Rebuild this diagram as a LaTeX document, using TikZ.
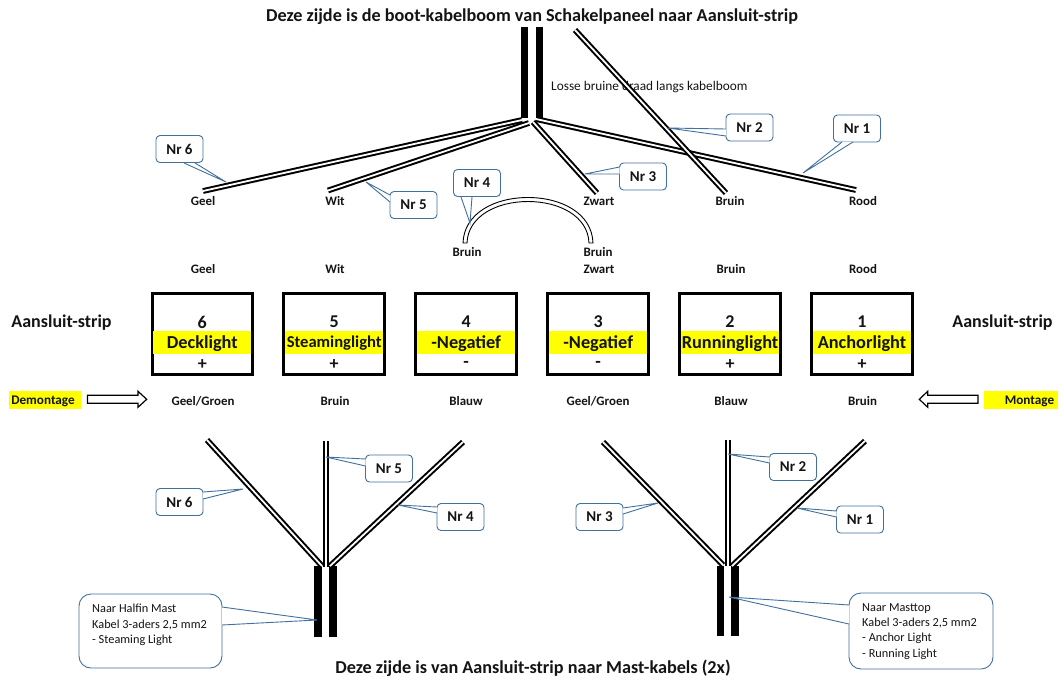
\documentclass[tikz,border=0pt]{standalone}
\usepackage{fontspec}
\setmainfont{Carlito}
\usetikzlibrary{calc}
\definecolor{callblue}{RGB}{65,113,156}
\definecolor{stripyellow}{RGB}{255,255,0}
\definecolor{txt}{RGB}{20,20,20}
\newcommand{\ptrTo}[4]{%
  \fill[white] ($(#1)+(#2)$) -- (#4) -- ($(#1)+(#3)$) -- cycle;
  \draw[callline] ($(#1)+(#2)$) -- (#4) -- ($(#1)+(#3)$);}
\tikzset{
  x=1pt,y=-1pt,
  title/.style={font=\bfseries\fontsize{18.2}{21}\selectfont,text=txt,inner sep=0},
  stripttl/.style={font=\bfseries\fontsize{18}{21}\selectfont,text=txt,inner sep=0},
  lbl/.style={font=\bfseries\fontsize{12.9}{15}\selectfont,text=txt,inner sep=0},
  taglbl/.style={font=\bfseries\fontsize{13.2}{15}\selectfont,text=txt,inner sep=0},
  strip/.style={font=\bfseries\fontsize{18.3}{21}\selectfont,text=txt,inner sep=0},
  num/.style={font=\bfseries\fontsize{18}{21}\selectfont,text=txt,inner sep=0},
  plain/.style={font=\fontsize{13.3}{15}\selectfont,text=txt,inner sep=0},
  noteplain/.style={font=\fontsize{12.3}{15.3}\selectfont,text=txt,inner sep=0},
  wire/.style={draw=black,line width=2pt,double=white,double distance=1.8pt},
  cable/.style={fill=black,inner sep=0,minimum width=7.5pt,minimum height=#1},
  termbox/.style={draw=black,line width=3pt,fill=white,minimum width=100.5pt,minimum height=81pt,inner sep=0},
  band/.style={fill=stripyellow,inner sep=0,minimum width=98pt,minimum height=22.7pt},
  nrbox/.style={draw=callblue,line width=0.9pt,rounded corners=4pt,fill=white,minimum width=47pt,minimum height=27pt,inner sep=0,font=\bfseries\fontsize{15}{17}\selectfont,text=txt},
  bigbox/.style={draw=callblue,line width=0.9pt,rounded corners=12pt,fill=white,inner sep=0},
  callline/.style={draw=callblue,line width=0.9pt},
  hollow/.style={draw=black,line width=0.9pt,fill=white},
  hollowarrow/.style={draw=black,line width=1.2pt,fill=white},
  yellowtag/.style={fill=stripyellow,inner sep=0},
}
\begin{document}
\begin{tikzpicture}
\useasboundingbox (0,0) rectangle (1061,681);
\fill[white] (0,0) rectangle (1061,681);

% titles
\node[title] (t1) at (532,16.5) {Deze zijde is de boot-kabelboom van Schakelpaneel naar Aansluit-strip};
\node[title] (t2) at (533,668.5) {Deze zijde is van Aansluit-strip naar Mast-kabels (2x)};
\node[plain,anchor=west] (losse) at (551,87) {Losse bruine draad langs kabelboom};

% top cables
\node[cable=91pt] (ct1) at (524.5,72.5) {};
\node[cable=91pt] (ct2) at (539.5,72.5) {};

% top wire ends
\coordinate (wGeelA) at (522,120);  \coordinate (wGeelB) at (203,191);
\coordinate (wWitA) at (529,123);   \coordinate (wWitB) at (328,190.5);
\coordinate (wZwA) at (533,122);    \coordinate (wZwB) at (597,193);
\coordinate (wRoA) at (536,119);    \coordinate (wRoB) at (856,190);
\coordinate (wBrA) at (575,30);     \coordinate (wBrB) at (726,193);
\foreach \a/\b in {wGeelA/wGeelB,wWitA/wWitB,wZwA/wZwB,wRoA/wRoB,wBrA/wBrB}
  \draw[wire] (\a) -- (\b);

% loose loop
\coordinate (loopL) at (465,243);
\coordinate (loopR) at (591,243);
\draw[hollow] ($(loopL)+(-2,0)$) .. controls (464,213) and (495,197.5) .. (528,197.5)
  .. controls (561,197.5) and (592,213) .. ($(loopR)+(2,0)$)
  -- ($(loopR)+(-2,0)$) .. controls (588,216) and (559,201.5) .. (528,201.5)
  .. controls (497,201.5) and (468,216) .. ($(loopL)+(2,0)$) -- cycle;

% upper labels
\foreach \n/\x/\y/\t in {a1/203/201/Geel,a2/335/201/Wit,a3/599/201/Zwart,a4/730/201/Bruin,a5/863/201/Rood,
  b1/467/252/Bruin,b2/598/252/Bruin,
  c1/203/269/Geel,c2/335/269/Wit,c3/599/269/Zwart,c4/731/269/Bruin,c5/863/269/Rood,
  d1/203/401/Geel\slash Groen,d2/335/401/Bruin,d3/466/401/Blauw,d4/598/401/Geel\slash Groen,d5/731/401/Blauw,d6/862.5/401/Bruin}
  \node[lbl] (\n) at (\x,\y) {\t};

% terminal boxes
\foreach \n/\x/\k/\name/\s in {b6/202.3/6/Decklight/+,b5/334.2/5/{\fontsize{16.6}{20}\selectfont Steaminglight}/+,b4/466.2/4/-Negatief/-,b3/598.2/3/-Negatief/-,b2x/730/2/Runninglight/+,b1x/862/1/Anchorlight/+}{
  \node[termbox] (\n) at (\x,334) {};
  \node[band] (\n band) at (\x,342.4) {};
  \node[num] (\n num) at (\x,322) {\k};
  \node[strip] (\n name) at (\x,343.5) {\name};
  \node[num] (\n sign) at (\x,364.5) {\s};
}

% strip titles
\node[stripttl] (asL) at (61.5,322.5) {Aansluit-strip};
\node[stripttl] (asR) at (1002.5,322.5) {Aansluit-strip};

% demontage / montage
\node[yellowtag,minimum width=72pt,minimum height=18.3pt] (demTag) at (45,400.2) {};
\node[taglbl] (dem) at (43,401) {Demontage};
\node[yellowtag,minimum width=74pt,minimum height=18.3pt] (monTag) at (1021,400.2) {};
\node[taglbl] (mon) at (1029.5,401) {Montage};
\draw[hollowarrow] (87.5,395.3) -- (138,395.3) -- (138,391.3) -- (146.7,399.3) -- (138,407.3) -- (138,403.3) -- (87.5,403.3) -- cycle;
\draw[hollowarrow] (978,395.3) -- (927.7,395.3) -- (927.7,391.3) -- (919.3,399.3) -- (927.7,407.3) -- (927.7,403.3) -- (978,403.3) -- cycle;

% lower cables and wires
\node[cable=71pt] (cb1) at (318,601.5) {};
\node[cable=71pt] (cb2) at (333,601.5) {};
\node[cable=70pt] (cb3) at (720.5,601) {};
\node[cable=70pt] (cb4) at (735,601) {};
\coordinate (l1a) at (207,440); \coordinate (l1b) at (322,566);
\coordinate (l2a) at (326,441); \coordinate (l2b) at (326,567);
\coordinate (l3a) at (463,442); \coordinate (l3b) at (330,566);
\coordinate (r1a) at (603,442); \coordinate (r1b) at (723,565);
\coordinate (r2a) at (728,440); \coordinate (r2b) at (728,566);
\coordinate (r3a) at (865,441); \coordinate (r3b) at (732,566);
\foreach \a/\b in {l1a/l1b,l2a/l2b,l3a/l3b,r1a/r1b,r2a/r2b,r3a/r3b}
  \draw[wire] (\a) -- (\b);

% callouts
\coordinate (tipA6) at (226,182);
\coordinate (tipA5) at (366,182);
\coordinate (tipA4) at (470,223);
\coordinate (tipA3) at (585,174);
\coordinate (tipA2) at (668,128);
\coordinate (tipA1) at (803,173);
\coordinate (tipB6) at (243,489);
\coordinate (tipB5) at (326,457);
\coordinate (tipB4) at (398,505);
\coordinate (tipB3) at (658,503);
\coordinate (tipB2) at (728,454);
\coordinate (tipB1) at (797,508);
\coordinate (tipBL) at (317,620);
\coordinate (tipBR) at (729,597);

\node[nrbox] (nA6) at (179.5,149) {Nr 6};   \ptrTo{nA6}{4.5,14}{15.5,14}{tipA6}
\node[nrbox] (nA5) at (413.5,205) {Nr 5};   \ptrTo{nA5}{-23.5,-10}{-23.5,-3}{tipA5}
\node[nrbox] (nA4) at (477,183) {Nr 4};     \ptrTo{nA4}{-16,14}{-5,14}{tipA4}
\node[nrbox] (nA3) at (643,176.5) {Nr 3};   \ptrTo{nA3}{-23.5,-9.5}{-23.5,-2.5}{tipA3}
\node[nrbox] (nA2) at (749.5,127.5) {Nr 2}; \ptrTo{nA2}{-23.5,1.5}{-23.5,8.5}{tipA2}
\node[nrbox] (nA1) at (857,128.5) {Nr 1};   \ptrTo{nA1}{-15,13.5}{-4,13.5}{tipA1}
\node[nrbox] (nB6) at (179.5,502) {Nr 6};   \ptrTo{nB6}{23.5,-10}{23.5,-3}{tipB6}
\node[nrbox] (nB5) at (389,468.5) {Nr 5};   \ptrTo{nB5}{-23.5,-9.5}{-23.5,-2.5}{tipB5}
\node[nrbox] (nB4) at (460.5,517) {Nr 4};   \ptrTo{nB4}{-23.5,-10}{-23.5,-4}{tipB4}
\node[nrbox] (nB3) at (599.5,517) {Nr 3};   \ptrTo{nB3}{23.5,-9}{23.5,-3}{tipB3}
\node[nrbox] (nB2) at (793,467) {Nr 2};     \ptrTo{nB2}{-23.5,-10}{-23.5,-4}{tipB2}
\node[nrbox] (nB1) at (860,519.5) {Nr 1};   \ptrTo{nB1}{-23.5,-8.5}{-23.5,-2.5}{tipB1}

\node[bigbox,minimum width=143pt,minimum height=74pt] (bigL) at (150.5,631) {};
\ptrTo{bigL}{71.5,-24}{71.5,-6}{tipBL}
\node[bigbox,minimum width=144pt,minimum height=76pt] (bigR) at (921,631) {};
\ptrTo{bigR}{-72,-26}{-72,-7}{tipBR}
\node[noteplain,anchor=north west,align=left] (bigLt) at (92,604) {Naar Halfin Mast\\Kabel 3-aders 2,5 mm2\\- Steaming Light};
\node[noteplain,anchor=north west,align=left] (bigRt) at (862,603) {Naar Masttop\\Kabel 3-aders 2,5 mm2\\- Anchor Light\\- Running Light};
\end{tikzpicture}
\end{document}
